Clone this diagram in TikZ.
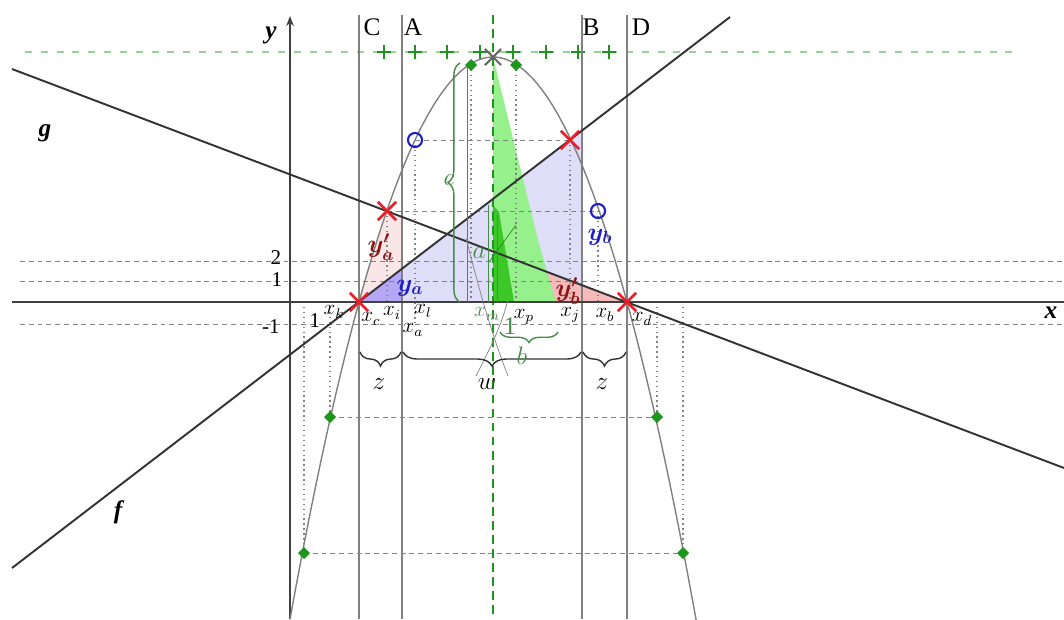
\documentclass[tikz,border=0pt]{standalone}
\usepackage{fontspec}
\setmainfont{Liberation Serif}
\usepackage{amsmath,amssymb}
\usepackage{tikz}
\usetikzlibrary{arrows.meta,shapes.misc,shapes.geometric,decorations.pathreplacing}
\definecolor{gridgray}{RGB}{130,130,130}
\definecolor{lavender}{RGB}{222,222,248}
\definecolor{violetfill}{RGB}{180,168,246}
\definecolor{pinkfill}{RGB}{246,186,186}
\definecolor{palepink}{RGB}{250,230,230}
\definecolor{lightgreen}{RGB}{150,240,140}
\definecolor{darkgreen}{RGB}{60,200,40}
\definecolor{ptgreen}{RGB}{30,150,30}
\definecolor{bracegreen}{RGB}{70,140,70}
\definecolor{crossred}{RGB}{232,30,40}
\definecolor{labred}{RGB}{140,20,20}
\definecolor{labblue}{RGB}{30,30,200}

\begin{document}
\begin{tikzpicture}[x=0.02cm, y=-0.02cm, every node/.style={font=\large, inner sep=1pt},
  declare function={par(\t)=57+245*((\t-493)/134)^2;}]
\useasboundingbox (0,0) rectangle (1064,619);
% shaded areas
\fill[lavender] (359,302) -- (582,131) -- (582,302) -- cycle;
\fill[violetfill] (359,302) -- (402,269) -- (402,302) -- cycle;
\fill[palepink] (359,302) -- (387,211) -- (402,217) -- (402,269) -- cycle;
\fill[pinkfill] (540,302) -- (540,269) -- (627,302) -- cycle;
\fill[lightgreen] (493,57) -- (538,240) .. controls (548,275) and (552,290) .. (556,302) -- (493,302) -- cycle;
\fill[darkgreen] (493,205) -- (499,212) -- (514,302) -- (493,302) -- cycle;
% grid lines
\foreach \h in {261,281,324}
  \draw[gridgray, dash pattern=on 2.8pt off 2.2pt] (20,\h) -- (1064,\h);
\draw[gridgray, dash pattern=on 2.8pt off 2.2pt] (415,140) -- (570,140);
\draw[gridgray, dash pattern=on 2.8pt off 2.2pt] (387,211) -- (598,211);
\draw[gridgray, dash pattern=on 2.8pt off 2.2pt] (330,417) -- (657,417);
\draw[gridgray, dash pattern=on 2.8pt off 2.2pt] (304,553) -- (683,553);
\foreach \v/\a/\b in {304/302/553, 330/302/417, 387/211/302, 415/140/324, 471/65/302, 516/65/302, 570/140/302, 598/211/302, 657/302/417, 683/302/553}
  \draw[gridgray, dotted, thick] (\v,\a) -- (\v,\b);
\draw[ptgreen!45, dash pattern=on 4pt off 5pt, thick] (25,52) -- (1020,52);
\foreach \p in {384,415,447,480,513,546,578,609}
  \draw[ptgreen, thick] (\p-7,52) -- (\p+7,52) (\p,45) -- (\p,59);
% strips
\foreach \v in {359,402,582,627}
  \draw[gray, line width=0.8pt] (\v,15) -- (\v,619);
\draw[ptgreen, dash pattern=on 5pt off 3pt, line width=1.2pt] (493,15) -- (493,619);
% axes
\draw[black!75, line width=1.2pt] (12,302) -- (1064,302);
\draw[black!75, line width=1.2pt, -{Stealth[length=2mm]}] (290,619) -- (290,16);
% parabola and lines
\draw[gray, line width=0.8pt, domain=290:697, samples=80] plot (\x,{par(\x)});
\draw[black!80, line width=1.1pt] (12,568) -- (730,17);
\draw[black!80, line width=1.1pt] (12,69) -- (1064,468);
% green helpers in the middle
\draw[bracegreen, thin] (488,302) -- (488,205) (497,302) -- (497,215) (467,65) -- (467,302);
\draw[darkgreen!70!black, thin] (489,262) -- (516,225);
\draw[gray, thin] (466,238) .. controls (478,285) and (490,330) .. (508,376);
\draw[gray, thin] (508,300) .. controls (500,330) and (488,352) .. (476,376);
% braces
\draw[bracegreen, line width=0.8pt, decorate, decoration={brace, amplitude=7pt}] (460,302) -- (460,63);
\draw[bracegreen, line width=0.8pt, decorate, decoration={brace, amplitude=6pt}] (558,332) -- (500,332);
\draw[black!80, line width=0.8pt, decorate, decoration={brace, amplitude=8pt}] (401,352) -- (360,352);
\draw[black!80, line width=0.8pt, decorate, decoration={brace, amplitude=8pt}] (581,352) -- (403,352);
\draw[black!80, line width=0.8pt, decorate, decoration={brace, amplitude=8pt}] (626,352) -- (583,352);
% points
\foreach \n/\px/\py in {pc/359/302, pd/627/302, pe/387/211, pf/570/140}
  \node[cross out, draw=crossred, line width=1.5pt, minimum size=9pt, inner sep=0pt] (\n) at (\px,\py) {};
\node[cross out, draw=black!60, line width=1.2pt, minimum size=8pt, inner sep=0pt] (vtop) at (493,57) {};
\foreach \n/\px/\py in {oa/415/140, ob/598/211}
  \node[circle, draw=labblue, line width=1.2pt, minimum size=8pt, inner sep=0pt] (\n) at (\px,\py) {};
\foreach \n/\px/\py in {qa/471/65, qb/516/65, qc/330/417, qd/657/417, qe/304/553, qf/683/553}
  \node[diamond, fill=ptgreen, minimum size=7pt, inner sep=0pt] (\n) at (\px,\py) {};
% labels
\node[font=\Large] (lblC) at (372,27) {C};
\node[font=\Large] (lblA) at (413,27) {A};
\node[font=\Large] (lblB) at (591,27) {B};
\node[font=\Large] (lblD) at (641,27) {D};
\node[font=\Large\bfseries\itshape] (lbly) at (271,35) {y};
\node[font=\Large\bfseries\itshape] (lblx) at (1051,313) {x};
\node[font=\Large\bfseries\itshape] (lblf) at (118,512) {f};
\node[font=\Large\bfseries\itshape] (lblg) at (45,133) {g};
\node (tick2) at (276,258) {2};
\node (tick1) at (277,280) {1};
\node (tickm1) at (271,327) {-1};
\node (xone) at (315,321) {1};
\node (xk) at (334,312) {$x_k$};
\node (xc) at (371,319) {$x_c$};
\node (xi) at (392,313) {$x_i$};
\node (xl) at (423,311) {$x_l$};
\node (xa) at (413,330) {$x_a$};
\node[text=bracegreen!70!gray] (xm) at (487,314) {$x_m$};
\node (xp) at (524,317) {$x_p$};
\node (xj) at (570,315) {$x_j$};
\node (xb) at (605,315) {$x_b$};
\node (xd) at (642,319) {$x_d$};
\node[text=labblue, font=\Large] (ya) at (410,288) {$\boldsymbol{y_a}$};
\node[text=labblue, font=\Large] (yb) at (600,237) {$\boldsymbol{y_b}$};
\node[text=labred, font=\Large] (ysa) at (381,247) {$\boldsymbol{y'_a}$};
\node[text=labred, font=\Large] (ysb) at (568,291) {$\boldsymbol{y'_b}$};
\node[text=bracegreen, font=\Large] (lblc) at (449,180) {$c$};
\node[text=bracegreen, font=\Large] (lbla) at (479,253) {$a$};
\node[text=bracegreen, font=\Large] (lblone) at (510,326) {1};
\node[text=bracegreen, font=\Large] (lblb) at (522,356) {$b$};
\node[font=\Large] (lblz) at (379,384) {$z$};
\node[font=\Large] (lblw) at (487,384) {$w$};
\node[font=\Large] (lblzz) at (602,384) {$z$};
\end{tikzpicture}
\end{document}
